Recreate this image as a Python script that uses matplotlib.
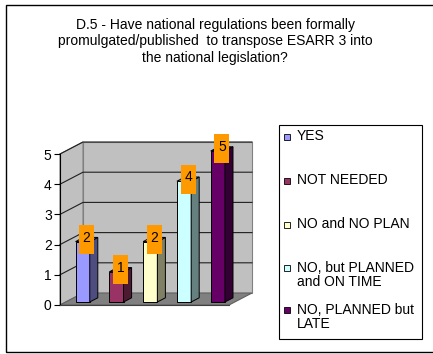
import matplotlib.pyplot as plt
from matplotlib.patches import Polygon, Rectangle

plt.rcParams['font.family'] = ['Liberation Sans', 'DejaVu Sans']

# data
title = ("D.5 - Have national regulations been formally\n"
         "promulgated/published  to transpose ESARR 3 into\n"
         "the national legislation?")
categories = ["YES", "NOT NEEDED", "NO and NO PLAN",
              "NO, but PLANNED\nand ON TIME", "NO, PLANNED but\nLATE"]
values = [2, 1, 2, 4, 5]
front_colors = ["#9999FF", "#993366", "#FFFFCC", "#CCFFFF", "#660066"]
side_colors = ["#4D4D80", "#4D1A33", "#808066", "#668080", "#330033"]
top_colors = ["#8080D9", "#80294F", "#D9D9AD", "#ADD9D9", "#520052"]

W, H = 433, 354
fig = plt.figure(figsize=(W / 100, H / 100), dpi=100)


def fx(x):
    return x / W


def fy(y):
    return 1 - y / H


# outer frame (right edge falls outside the picture)
fig.patches.append(Rectangle((fx(6), fy(352)), fx(440) - fx(6), fy(5) - fy(352),
                             transform=fig.transFigure, fill=False,
                             edgecolor="black", lw=1.0))

fig.text(fx(215), fy(41.5), title, ha="center", va="center",
         fontsize=10, linespacing=1.22)

# front plane of the 3d box
ax = fig.add_axes([fx(60), fy(305), fx(229) - fx(60), fy(154) - fy(305)])
ax.set_xlim(-0.5, 4.5)
ax.set_ylim(0, 5)
ax.patch.set_visible(False)
for s in ["top", "right"]:
    ax.spines[s].set_visible(False)
ax.spines["left"].set_color("black")
ax.spines["left"].set_linewidth(0.8)
ax.spines["bottom"].set_color("#404040")
ax.spines["bottom"].set_linewidth(0.8)
ax.set_xticks([])
ax.set_yticks(range(0, 6))
ax.tick_params(axis="y", length=4, width=0.8, pad=2, labelsize=10)

# depth vector in data units
dx = 23 / 33.8
dy = 12 / 30.2
x0, x1, y1 = -0.5, 4.5, 5

wall = Polygon([(x0 + dx, dy), (x1 + dx, dy), (x1 + dx, y1 + dy), (x0 + dx, y1 + dy)],
               closed=True, facecolor="#C0C0C0", edgecolor="#808080", lw=0.8,
               clip_on=False, zorder=0)
side = Polygon([(x0, 0), (x0 + dx, dy), (x0 + dx, y1 + dy), (x0, y1)],
               closed=True, facecolor="#C0C0C0", edgecolor="#808080", lw=0.8,
               clip_on=False, zorder=0)
floor = Polygon([(x0, 0), (x1, 0), (x1 + dx, dy), (x0 + dx, dy)],
                closed=True, facecolor="#808080", edgecolor="#606060", lw=0.8,
                clip_on=False, zorder=0)
for p in (wall, side, floor):
    ax.add_patch(p)

for v in range(1, 6):
    ax.plot([x0, x0 + dx, x1 + dx], [v, v + dy, v + dy], color="#202020",
            lw=0.8, clip_on=False, zorder=1)

# bars
f1, f2 = 0.25, 0.6
bw = 0.42
for i, (v, fc, sc, tc) in enumerate(zip(values, front_colors, side_colors, top_colors)):
    left = i - bw / 2 + f1 * dx
    right = left + bw
    base = f1 * dy
    ax.bar(left, v, width=bw, bottom=base, align="edge", color=fc,
           edgecolor="black", lw=0.7, clip_on=False, zorder=3)
    ddx = (f2 - f1) * dx
    ddy = (f2 - f1) * dy
    ax.add_patch(Polygon([(right, base), (right + ddx, base + ddy),
                          (right + ddx, base + v + ddy), (right, base + v)],
                         closed=True, facecolor=sc, edgecolor="black", lw=0.7,
                         clip_on=False, zorder=3))
    ax.add_patch(Polygon([(left, base + v), (right, base + v),
                          (right + ddx, base + v + ddy), (left + ddx, base + v + ddy)],
                         closed=True, facecolor=tc, edgecolor="black", lw=0.7,
                         clip_on=False, zorder=3))
    # orange value label
    cx = i + (f1 + f2) / 2 * dx
    cy = v + (f1 + f2) / 2 * dy
    bw_lab, bh_lab = 0.44, 0.96
    ax.add_patch(Rectangle((cx - bw_lab / 2, cy - bh_lab / 2), bw_lab, bh_lab,
                           facecolor="#FF9900", edgecolor="none",
                           clip_on=False, zorder=5))
    ax.text(cx, cy + 0.06, str(v), ha="center", va="center", fontsize=10,
            zorder=6, clip_on=False)

# legend
fig.patches.append(Rectangle((fx(279), fy(339)), fx(422) - fx(279), fy(125) - fy(339),
                             transform=fig.transFigure, facecolor="white",
                             edgecolor="black", lw=0.8))
ys = [137, 181, 225, 268, 310]
for lab, fc, yy in zip(categories, front_colors, ys):
    fig.patches.append(Rectangle((fx(284), fy(yy + 3)), fx(6), fy(0) - fy(6),
                                 transform=fig.transFigure, facecolor=fc,
                                 edgecolor="black", lw=0.6))
    fig.text(fx(297), fy(yy - 7.5), lab, ha="left", va="top", fontsize=10,
             linespacing=1.0)

fig.savefig("out.png", dpi=100)
